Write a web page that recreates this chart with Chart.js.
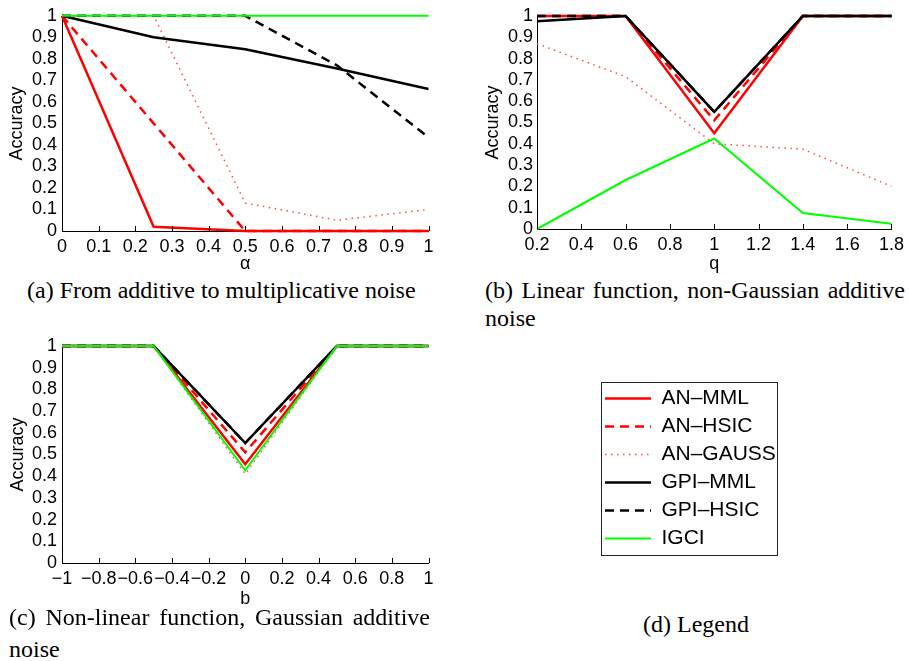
<!DOCTYPE html>
<html>
<head>
<meta charset="utf-8">
<script src="https://cdn.jsdelivr.net/npm/chart.js@4.4.1/dist/chart.umd.min.js"></script>
<style>
  body { margin: 0; width: 909px; height: 661px; background: #fff; overflow: hidden; position: relative; }
  canvas { position: absolute; }
  .cap { position: absolute; font-family: "Liberation Serif", "Times New Roman", serif; font-size: 24px; line-height: 24px; color: #000; white-space: nowrap; }
  .just { white-space: normal; text-align: justify; text-align-last: justify; }
  #legendBox { position: absolute; left: 601px; top: 382px; width: 177px; height: 174px; box-sizing: border-box; border: 1.5px solid #222; }
</style>
</head>
<body>
<canvas id="chartA" width="450" height="275" style="left:0;top:0"></canvas>
<canvas id="chartB" width="449" height="275" style="left:460px;top:0"></canvas>
<canvas id="chartC" width="450" height="280" style="left:0;top:330px"></canvas>
<div id="legendBox"></div>
<canvas id="legendChart" width="440" height="200" style="left:598px;top:381px"></canvas>

<div class="cap" style="left:27px;top:278px">(a) From additive to multiplicative noise</div>
<div class="cap just" style="left:485px;top:278px;width:420px">(b) Linear function, non-Gaussian additive</div>
<div class="cap" style="left:485px;top:306px">noise</div>
<div class="cap just" style="left:9px;top:605px;width:421px">(c) Non-linear function, Gaussian additive</div>
<div class="cap" style="left:9px;top:637px">noise</div>
<div class="cap" style="left:643px;top:612px">(d) Legend</div>

<script>
// 시리즈 이름과 선 스타일 (범례와 세 그래프가 공유)
const seriesNames = ["AN\u2013MML", "AN\u2013HSIC", "AN\u2013GAUSS", "GPI\u2013MML", "GPI\u2013HSIC", "IGCI"];
const seriesColors = ["#ff0000", "#ff0000", "#ff4a4a", "#000000", "#000000", "#00ff00"];
const seriesDash = [[], [9, 6], [1.5, 4.5], [], [9, 6], []];
const seriesWidths = [2.5, 2.5, 1.5, 2.5, 2.5, 2];

// 공통 y축 눈금
const yTicks = [0, 0.1, 0.2, 0.3, 0.4, 0.5, 0.6, 0.7, 0.8, 0.9, 1];

// (a) additive -> multiplicative noise
const xA = [0, 0.25, 0.5, 0.75, 1];
const xTicksA = [0, 0.1, 0.2, 0.3, 0.4, 0.5, 0.6, 0.7, 0.8, 0.9, 1];
const aAnMml = [1, 0.02, 0, 0, 0];
const aAnHsic = [1, 0.5, 0, 0, 0];
const aAnGauss = [1, 1, 0.13, 0.05, 0.1];
const aGpiMml = [1, 0.9, 0.845, 0.755, 0.66];
const aGpiHsic = [1, 1, 1, 0.77, 0.435];
const aIgci = [1, 1, 1, 1, 1];

// (b) linear function, non-Gaussian additive noise
const xB = [0.2, 0.6, 1, 1.4, 1.8];
const xTicksB = [0.2, 0.4, 0.6, 0.8, 1, 1.2, 1.4, 1.6, 1.8];
const bAnMml = [1, 1, 0.45, 1, 1];
const bAnHsic = [1, 1, 0.51, 1, 1];
const bAnGauss = [0.87, 0.715, 0.4, 0.375, 0.2];
const bGpiMml = [0.975, 1, 0.55, 1, 1];
const bGpiHsic = [1, 1, 0.55, 1, 1];
const bIgci = [0, 0.23, 0.425, 0.075, 0.025];

// (c) non-linear function, Gaussian additive noise
const xC = [-1, -0.5, 0, 0.5, 1];
const xTicksC = [-1, -0.8, -0.6, -0.4, -0.2, 0, 0.2, 0.4, 0.6, 0.8, 1];
const cAnMml = [1, 1, 0.455, 1, 1];
const cAnHsic = [1, 1, 0.51, 1, 1];
const cAnGauss = [1, 1, 0.41, 1, 1];
const cGpiMml = [1, 1, 0.553, 1, 1];
const cGpiHsic = [1, 1, 0.553, 1, 1];
const cIgci = [1, 1, 0.427, 1, 1];

const axisFont = { family: "'Liberation Sans', Arial, sans-serif", size: 18 };
const fmt = (v) => String(v).replace("-", "\u2212");

// MATLAB 스타일: x축 눈금은 안쪽(위쪽)으로 그린다
const innerTicks = {
  id: "innerTicks",
  afterDatasetsDraw(chart) {
    const { ctx, chartArea, scales: { x } } = chart;
    ctx.save();
    ctx.strokeStyle = "#000";
    ctx.lineWidth = 1;
    x.ticks.forEach(t => {
      const px = Math.round(x.getPixelForValue(t.value)) + 0.5;
      ctx.beginPath();
      ctx.moveTo(px, chartArea.bottom);
      ctx.lineTo(px, chartArea.bottom - 5);
      ctx.stroke();
    });
    ctx.restore();
  }
};

function buildDatasets(xs, list) {
  // 나중에 그린 시리즈가 위에 오도록 order를 뒤집는다 (IGCI가 맨 위)
  return list.map((ys, i) => ({
    label: seriesNames[i],
    data: xs.map((x, j) => ({ x, y: ys[j] })),
    borderColor: seriesColors[i],
    borderDash: seriesDash[i],
    borderWidth: seriesWidths[i],
    pointRadius: 0,
    tension: 0,
    fill: false,
    clip: false,
    order: list.length - 1 - i
  }));
}

function makeOptions(cfg) {
  return {
    responsive: false,
    animation: false,
    devicePixelRatio: 1,
    layout: { padding: { top: cfg.top, right: cfg.right, left: 0, bottom: 0 } },
    plugins: { legend: { display: false }, tooltip: { enabled: false } },
    scales: {
      x: {
        type: "linear",
        min: cfg.ticks[0],
        max: cfg.ticks[cfg.ticks.length - 1],
        afterBuildTicks: s => { s.ticks = cfg.ticks.map(v => ({ value: v })); },
        afterFit: s => { s.height = cfg.xHeight; },
        grid: { display: true, drawOnChartArea: false, drawTicks: false },
        border: { display: true, color: "#000", width: 1 },
        ticks: { autoSkip: false, maxRotation: 0, padding: 5, color: "#000", font: axisFont, callback: fmt },
        title: { display: true, text: cfg.xTitle, color: "#000", font: axisFont, padding: { top: 0, bottom: 0 } }
      },
      y: {
        min: 0,
        max: 1,
        afterBuildTicks: s => { s.ticks = yTicks.map(v => ({ value: v })); },
        afterFit: s => { s.width = cfg.yWidth; },
        grid: { display: true, drawOnChartArea: false, drawTicks: false },
        border: { display: true, color: "#000", width: 1 },
        ticks: { autoSkip: false, padding: cfg.yPad, color: "#000", font: axisFont, callback: fmt },
        title: { display: true, text: "Accuracy", color: "#000", font: axisFont, padding: { top: cfg.yTitlePad, bottom: 0 } }
      }
    }
  };
}

new Chart(document.getElementById("chartA"), {
  type: "line",
  data: { datasets: buildDatasets(xA, [aAnMml, aAnHsic, aAnGauss, aGpiMml, aGpiHsic, aIgci]) },
  options: makeOptions({ ticks: xTicksA, xTitle: "\u03b1", top: 15, right: 21.5, xHeight: 44, yWidth: 62, yPad: 5, yTitlePad: 6 }),
  plugins: [innerTicks]
});

new Chart(document.getElementById("chartB"), {
  type: "line",
  data: { datasets: buildDatasets(xB, [bAnMml, bAnHsic, bAnGauss, bGpiMml, bGpiHsic, bIgci]) },
  options: makeOptions({ ticks: xTicksB, xTitle: "q", top: 16, right: 15.7, xHeight: 46, yWidth: 77, yPad: 4, yTitlePad: 22 }),
  plugins: [innerTicks]
});

new Chart(document.getElementById("chartC"), {
  type: "line",
  data: { datasets: buildDatasets(xC, [cAnMml, cAnHsic, cAnGauss, cGpiMml, cGpiHsic, cIgci]) },
  options: makeOptions({ ticks: xTicksC, xTitle: "b", top: 16, right: 21.5, xHeight: 47, yWidth: 62, yPad: 5, yTitlePad: 7 }),
  plugins: [innerTicks]
});

// (d) 범례 전용 차트: 데이터 없이 legend만 표시
new Chart(document.getElementById("legendChart"), {
  type: "line",
  data: {
    datasets: seriesNames.map((name, i) => ({
      label: name, data: [], borderColor: seriesColors[i], borderDash: seriesDash[i], borderWidth: seriesWidths[i]
    }))
  },
  options: {
    responsive: false,
    animation: false,
    devicePixelRatio: 1,
    layout: { padding: 0 },
    scales: { x: { type: "linear", display: false }, y: { display: false } },
    plugins: {
      tooltip: { enabled: false },
      legend: {
        display: true,
        position: "left",
        align: "start",
        labels: {
          usePointStyle: true,
          pointStyle: "line",
          pointStyleWidth: 46,
          padding: 7,
          color: "#000",
          font: { family: "'Liberation Sans', Arial, sans-serif", size: 21 },
          generateLabels: chart => chart.data.datasets.map((d, i) => ({
            text: d.label,
            strokeStyle: d.borderColor,
            fillStyle: d.borderColor,
            lineWidth: d.borderWidth,
            lineDash: d.borderDash,
            pointStyle: "line",
            hidden: false,
            datasetIndex: i
          }))
        }
      }
    }
  }
});
</script>
</body>
</html>
